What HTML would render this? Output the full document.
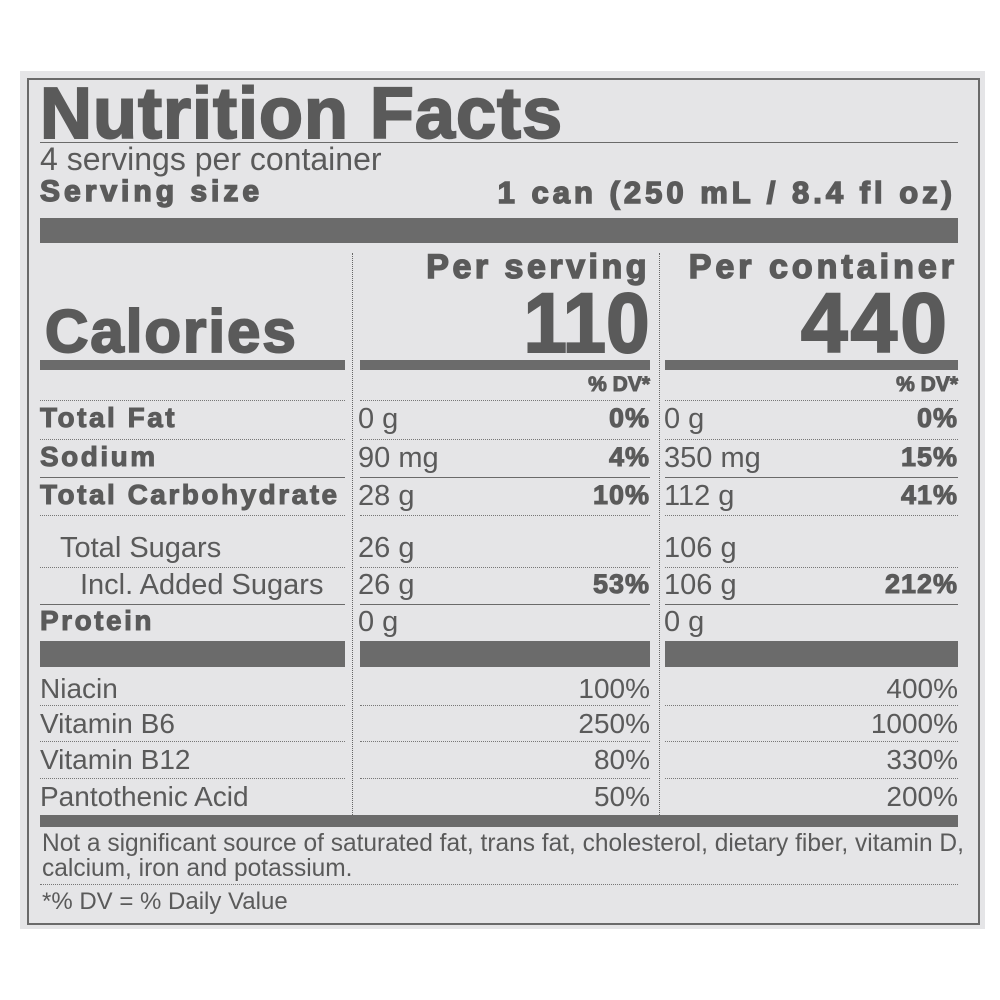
<!DOCTYPE html>
<html><head><style>
body{margin:0;width:1000px;height:1000px;background:#fff;position:relative;overflow:hidden;font-family:"Liberation Sans",Arial,sans-serif;color:#5a5a5a}
.p{position:absolute;left:20px;top:71px;width:965px;height:858px;background:#e5e5e7}
.b{position:absolute;left:27px;top:78px;width:949px;height:843px;border:2px solid #6a6a6a}
.t{position:absolute;line-height:1;white-space:nowrap}
.bd{font-weight:bold;-webkit-text-stroke:1px #5a5a5a}
.lb{font-size:28px;letter-spacing:2.5px}
.v{font-size:29px}
.d{font-size:27px;letter-spacing:1px}
.n{font-size:28px}
.r{text-align:right}
.bar{position:absolute;background:#6b6b6b}
.ln{position:absolute;height:0;border-top:1px solid #6a6a6a}
.dl{position:absolute;height:0;border-top:1.5px dotted #777}
.vl{position:absolute;width:0;border-left:1.5px dotted #666}
</style></head><body>
<div class="p"></div><div class="b"></div>

<div class="t bd" style="left:40px;top:78px;font-size:72px;letter-spacing:1px;-webkit-text-stroke:2px #5a5a5a">Nutrition Facts</div>
<div class="ln" style="left:40px;top:142px;width:918px"></div>
<div class="t" style="left:40px;top:143px;font-size:32px">4 servings per container</div>
<div class="t bd" style="left:40px;top:177px;font-size:30px;letter-spacing:4px;-webkit-text-stroke:1.5px #5a5a5a">Serving size</div>
<div class="t bd r" style="right:44px;top:177px;font-size:31px;letter-spacing:4px;-webkit-text-stroke:1.5px #5a5a5a">1 can (250 mL / 8.4 fl oz)</div>
<div class="bar" style="left:40px;top:218px;width:918px;height:25px"></div>

<div class="vl" style="left:352px;top:253px;height:562px"></div>
<div class="vl" style="left:659px;top:253px;height:562px"></div>

<div class="t bd r" style="right:350px;top:250px;font-size:34px;letter-spacing:3.5px;-webkit-text-stroke:1.5px #5a5a5a">Per serving</div>
<div class="t bd r" style="right:42px;top:250px;font-size:34px;letter-spacing:4px;-webkit-text-stroke:1.5px #5a5a5a">Per container</div>
<div class="t bd r" style="right:350px;top:281px;font-size:84px;transform:scaleX(0.93);transform-origin:right;-webkit-text-stroke:2px #5a5a5a">110</div>
<div class="t bd r" style="right:50px;top:281px;font-size:84px;letter-spacing:3px;-webkit-text-stroke:2px #5a5a5a">440</div>
<div class="t bd" style="left:45px;top:302px;font-size:60px;letter-spacing:2px;-webkit-text-stroke:2px #5a5a5a">Calories</div>

<div class="bar" style="left:40px;top:360px;width:305px;height:10px"></div>
<div class="bar" style="left:360px;top:360px;width:290px;height:10px"></div>
<div class="bar" style="left:665px;top:360px;width:293px;height:10px"></div>

<div class="t bd r" style="right:350px;top:374px;font-size:21px">% DV*</div>
<div class="t bd r" style="right:42px;top:374px;font-size:21px">% DV*</div>

<div class="dl" style="left:40px;top:400px;width:305px"></div><div class="dl" style="left:360px;top:400px;width:290px"></div><div class="dl" style="left:665px;top:400px;width:293px"></div>
<div class="dl" style="left:40px;top:439px;width:305px"></div><div class="dl" style="left:360px;top:439px;width:290px"></div><div class="dl" style="left:665px;top:439px;width:293px"></div>
<div class="ln" style="left:40px;top:477px;width:305px"></div><div class="ln" style="left:360px;top:477px;width:290px"></div><div class="ln" style="left:665px;top:477px;width:293px"></div>
<div class="dl" style="left:40px;top:515px;width:305px"></div><div class="dl" style="left:360px;top:515px;width:290px"></div><div class="dl" style="left:665px;top:515px;width:293px"></div>
<div class="dl" style="left:40px;top:567px;width:305px"></div><div class="dl" style="left:360px;top:567px;width:290px"></div><div class="dl" style="left:665px;top:567px;width:293px"></div>
<div class="ln" style="left:40px;top:604px;width:305px"></div><div class="ln" style="left:360px;top:604px;width:290px"></div><div class="ln" style="left:665px;top:604px;width:293px"></div>
<div class="bar" style="left:40px;top:641px;width:305px;height:26px"></div>
<div class="bar" style="left:360px;top:641px;width:290px;height:26px"></div>
<div class="bar" style="left:665px;top:641px;width:293px;height:26px"></div>
<div class="dl" style="left:40px;top:705px;width:305px"></div><div class="dl" style="left:360px;top:705px;width:290px"></div><div class="dl" style="left:665px;top:705px;width:293px"></div>
<div class="dl" style="left:40px;top:741px;width:305px"></div><div class="dl" style="left:360px;top:741px;width:290px"></div><div class="dl" style="left:665px;top:741px;width:293px"></div>
<div class="dl" style="left:40px;top:778px;width:305px"></div><div class="dl" style="left:360px;top:778px;width:290px"></div><div class="dl" style="left:665px;top:778px;width:293px"></div>

<div class="t bd lb" style="left:40px;top:404px">Total Fat</div>
<div class="t v" style="left:358px;top:405px">0 g</div>
<div class="t bd r d" style="right:350px;top:405px">0%</div>
<div class="t v" style="left:664px;top:405px">0 g</div>
<div class="t bd r d" style="right:42px;top:405px">0%</div>

<div class="t bd lb" style="left:40px;top:443px">Sodium</div>
<div class="t v" style="left:358px;top:444px">90 mg</div>
<div class="t bd r d" style="right:350px;top:444px">4%</div>
<div class="t v" style="left:664px;top:444px">350 mg</div>
<div class="t bd r d" style="right:42px;top:444px">15%</div>

<div class="t bd lb" style="left:40px;top:481px">Total Carbohydrate</div>
<div class="t v" style="left:358px;top:482px">28 g</div>
<div class="t bd r d" style="right:350px;top:482px">10%</div>
<div class="t v" style="left:664px;top:482px">112 g</div>
<div class="t bd r d" style="right:42px;top:482px">41%</div>

<div class="t v" style="left:60px;top:534px">Total Sugars</div>
<div class="t v" style="left:358px;top:534px">26 g</div>
<div class="t v" style="left:664px;top:534px">106 g</div>

<div class="t v" style="left:80px;top:571px">Incl. Added Sugars</div>
<div class="t v" style="left:358px;top:571px">26 g</div>
<div class="t bd r d" style="right:350px;top:571px">53%</div>
<div class="t v" style="left:664px;top:571px">106 g</div>
<div class="t bd r d" style="right:42px;top:571px">212%</div>

<div class="t bd lb" style="left:40px;top:607px">Protein</div>
<div class="t v" style="left:358px;top:608px">0 g</div>
<div class="t v" style="left:664px;top:608px">0 g</div>

<div class="t n" style="left:40px;top:675px">Niacin</div>
<div class="t r n" style="right:350px;top:675px">100%</div>
<div class="t r n" style="right:42px;top:675px">400%</div>
<div class="t n" style="left:40px;top:710px">Vitamin B6</div>
<div class="t r n" style="right:350px;top:710px">250%</div>
<div class="t r n" style="right:42px;top:710px">1000%</div>
<div class="t n" style="left:40px;top:746px">Vitamin B12</div>
<div class="t r n" style="right:350px;top:746px">80%</div>
<div class="t r n" style="right:42px;top:746px">330%</div>
<div class="t n" style="left:40px;top:783px">Pantothenic Acid</div>
<div class="t r n" style="right:350px;top:783px">50%</div>
<div class="t r n" style="right:42px;top:783px">200%</div>

<div class="bar" style="left:40px;top:815px;width:918px;height:12px"></div>
<div class="t" style="left:42px;top:831px;font-size:25px;transform:scaleX(0.98);transform-origin:left">Not a significant source of saturated fat, trans fat, cholesterol, dietary fiber, vitamin D,</div>
<div class="t" style="left:42px;top:856px;font-size:25px;transform:scaleX(0.98);transform-origin:left">calcium, iron and potassium.</div>
<div class="dl" style="left:40px;top:884px;width:918px"></div>
<div class="t" style="left:42px;top:890px;font-size:24px">*% DV = % Daily Value</div>
</body></html>
